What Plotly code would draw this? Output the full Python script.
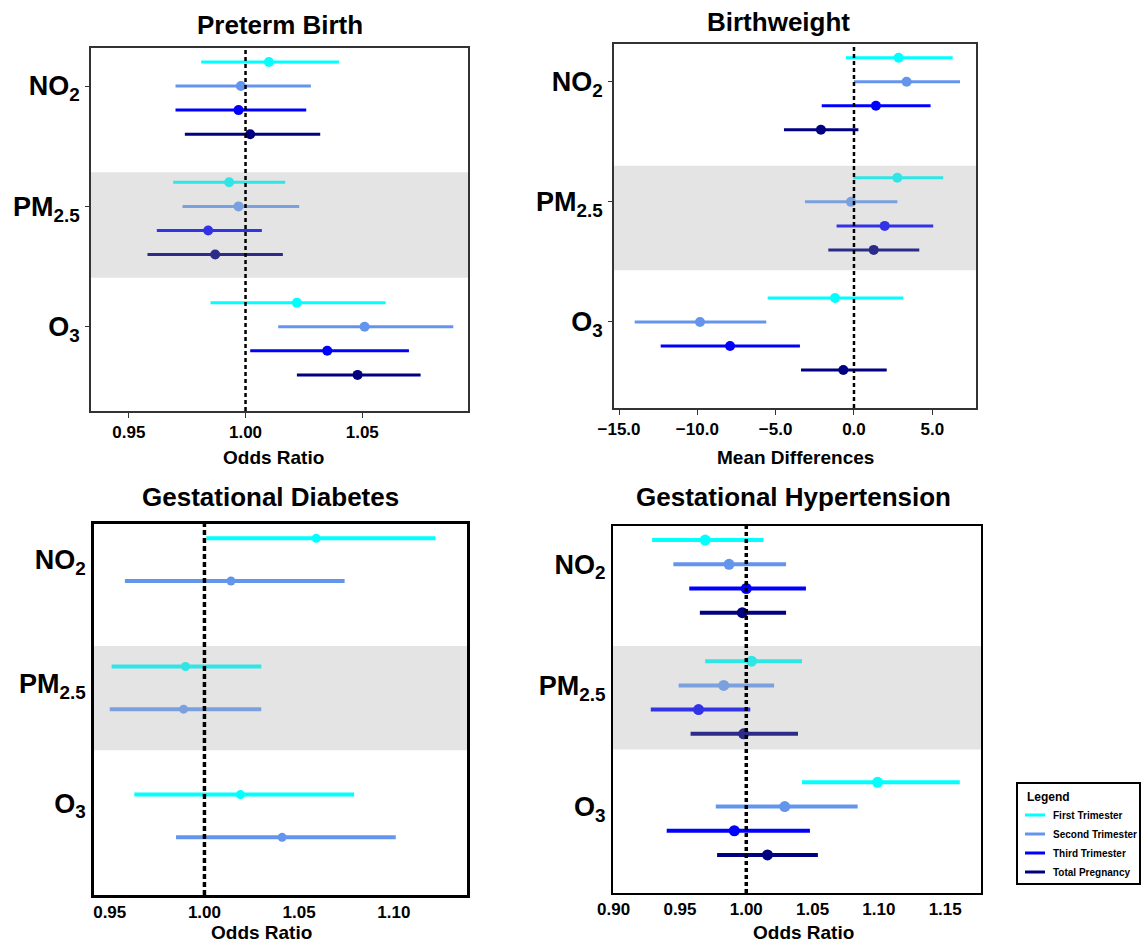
import plotly.graph_objects as go

W, H = 1142, 944
FONT = "Liberation Sans, Arial, Helvetica, sans-serif"

pollutants = ["NO<sub>2</sub>", "PM<sub>2.5</sub>", "O<sub>3</sub>"]
trimesters = ["First Trimester", "Second Trimester", "Third Trimester", "Total Pregnancy"]

# Preterm Birth (odds ratio); order: NO2 x4, PM2.5 x4, O3 x4 (First, Second, Third, Total)
ptb_est = [1.010, 0.998, 0.997, 1.002, 0.993, 0.997, 0.984, 0.987, 1.022, 1.051, 1.035, 1.048]
ptb_lo = [0.981, 0.970, 0.970, 0.974, 0.969, 0.973, 0.962, 0.958, 0.985, 1.014, 1.002, 1.022]
ptb_hi = [1.040, 1.028, 1.026, 1.032, 1.017, 1.023, 1.007, 1.016, 1.060, 1.089, 1.070, 1.075]

# Birthweight (mean differences)
bw_est = [2.85, 3.36, 1.40, -2.11, 2.77, -0.19, 1.96, 1.26, -1.21, -9.83, -7.91, -0.68]
bw_lo = [-0.51, 0.00, -2.06, -4.47, -0.04, -3.13, -1.11, -1.64, -5.51, -14.00, -12.34, -3.38]
bw_hi = [6.30, 6.77, 4.89, 0.28, 5.70, 2.77, 5.06, 4.17, 3.15, -5.60, -3.45, 2.09]

# Gestational Diabetes (odds ratio); only First and Second trimester: NO2 x2, PM2.5 x2, O3 x2
gdm_est = [1.059, 1.014, 0.990, 0.989, 1.019, 1.041]
gdm_lo = [1.001, 0.958, 0.951, 0.950, 0.963, 0.985]
gdm_hi = [1.122, 1.074, 1.030, 1.030, 1.079, 1.101]

# Gestational Hypertension (odds ratio)
gh_est = [0.969, 0.987, 1.000, 0.997, 1.004, 0.983, 0.964, 0.998, 1.099, 1.029, 0.991, 1.016]
gh_lo = [0.929, 0.945, 0.957, 0.965, 0.969, 0.949, 0.928, 0.958, 1.042, 0.977, 0.940, 0.978]
gh_hi = [1.013, 1.030, 1.045, 1.030, 1.042, 1.021, 1.003, 1.039, 1.161, 1.084, 1.048, 1.054]

colors = ["#00FFFF", "#6495ED", "#0000FF", "#000080"]
colors_band = ["#2EE6E6", "#7AA0DE", "#3333E6", "#2C2C88"]

fig = go.Figure()


def px_x(p):
    return p / W


def px_y(p):
    return 1 - p / H


def add_panel(k, est, lo, hi, n_tri, gap, lw, ms):
    xa = "x" if k == 1 else f"x{k}"
    ya = "y" if k == 1 else f"y{k}"
    i = 0
    for g in range(3):
        for t in range(n_tri):
            c = colors_band[t] if g == 1 else colors[t]
            row = g * gap + t
            fig.add_trace(go.Scatter(
                x=[est[i]], y=[row], mode="markers", name=trimesters[t],
                marker=dict(color=c, size=ms, line=dict(width=0)),
                error_x=dict(type="data", symmetric=False,
                             array=[hi[i] - est[i]], arrayminus=[est[i] - lo[i]],
                             width=0, thickness=lw, color=c),
                xaxis=xa, yaxis=ya, showlegend=False, hoverinfo="x+y"))
            i += 1


add_panel(1, ptb_est, ptb_lo, ptb_hi, 4, 5, 3, 10)
add_panel(2, bw_est, bw_lo, bw_hi, 4, 5, 3, 10)
add_panel(3, gdm_est, gdm_lo, gdm_hi, 2, 3, 4, 9)
add_panel(4, gh_est, gh_lo, gh_hi, 4, 5, 4, 11)

tickfont_x = dict(family=FONT, size=17, color="black", weight="bold")
tickfont_y = dict(family=FONT, size=27, color="black", weight="bold")

panels = {
    1: dict(xd=(91, 468), yd=(48, 411), xr=[0.9338, 1.0953], yr=[14.5, -0.58],
            xt=[0.95, 1.00, 1.05], fmt=".2f", yt=[1, 6, 11], band=(4.58, 8.96),
            ref=1.0, lc="#333333", lwid=1.5, ticks="outside", dw=2.5, dash="4px,3px"),
    2: dict(xd=(614, 976), yd=(44, 408), xr=[-15.32, 7.79], yr=[14.58, -0.57],
            xt=[-15, -10, -5, 0, 5], fmt=".1f", yt=[1, 6, 11], band=(4.5, 8.85),
            ref=0.0, lc="#333333", lwid=1.5, ticks="outside", dw=2.5, dash="4px,3px"),
    3: dict(xd=(94, 467), yd=(524, 895), xr=[0.9417, 1.1386], yr=[8.35, -0.335],
            xt=[0.95, 1.00, 1.05, 1.10], fmt=".2f", yt=[0.5, 3.4, 6.2], band=(2.52, 4.96),
            ref=1.0, lc="black", lwid=2.5, ticks="", dw=3.5, dash="5px,3px"),
    4: dict(xd=(613, 981), yd=(526, 893), xr=[0.8995, 1.177], yr=[14.57, -0.58],
            xt=[0.90, 0.95, 1.00, 1.05, 1.10, 1.15], fmt=".2f", yt=[1, 6, 11], band=(4.37, 8.65),
            ref=1.0, lc="black", lwid=2, ticks="", dw=3.5, dash="4px,3px"),
}

layout = {}
for k, p in panels.items():
    xn = "xaxis" if k == 1 else f"xaxis{k}"
    yn = "yaxis" if k == 1 else f"yaxis{k}"
    xa = "x" if k == 1 else f"x{k}"
    ya = "y" if k == 1 else f"y{k}"
    layout[xn] = dict(domain=[px_x(p["xd"][0]), px_x(p["xd"][1])], range=p["xr"], anchor=ya,
                      tickvals=p["xt"], tickformat=p["fmt"], ticks=p["ticks"], ticklen=5,
                      tickcolor=p["lc"], showline=True, mirror=True, linecolor=p["lc"],
                      linewidth=p["lwid"], showgrid=False, zeroline=False, tickfont=tickfont_x,
                      fixedrange=True, automargin=False)
    layout[yn] = dict(domain=[px_y(p["yd"][1]), px_y(p["yd"][0])], range=p["yr"], anchor=xa,
                      tickvals=p["yt"], ticktext=pollutants, ticks=p["ticks"], ticklen=4,
                      tickcolor=p["lc"], showline=True, mirror=True, linecolor=p["lc"],
                      linewidth=p["lwid"], showgrid=False, zeroline=False, tickfont=tickfont_y,
                      fixedrange=True, automargin=False)
    fig.add_shape(type="rect", xref=f"{xa} domain", yref=ya, x0=0, x1=1,
                  y0=p["band"][0], y1=p["band"][1], fillcolor="#E4E4E4",
                  line=dict(width=0), layer="below")
    fig.add_shape(type="line", xref=xa, yref=f"{ya} domain", x0=p["ref"], x1=p["ref"],
                  y0=0, y1=1, line=dict(color="black", width=p["dw"], dash=p["dash"]),
                  layer="above")

titles = [("Preterm Birth", 280, 25), ("Birthweight", 779, 22),
          ("Gestational Diabetes", 270, 497), ("Gestational Hypertension", 793, 497)]
for txt, x, y in titles:
    fig.add_annotation(text=txt, x=px_x(x), y=px_y(y), xref="paper", yref="paper",
                       showarrow=False, xanchor="center", yanchor="middle",
                       font=dict(family=FONT, size=26, color="black", weight="bold"))

xtitles = [("Odds Ratio", 273, 457), ("Mean Differences", 795, 457),
           ("Odds Ratio", 261, 932), ("Odds Ratio", 803, 932)]
for txt, x, y in xtitles:
    fig.add_annotation(text=txt, x=px_x(x), y=px_y(y), xref="paper", yref="paper",
                       showarrow=False, xanchor="center", yanchor="middle",
                       font=dict(family=FONT, size=19, color="black", weight="bold"))

# Hand-drawn legend box (matches the reference's compact legend)
fig.add_shape(type="rect", xref="paper", yref="paper",
              x0=px_x(1017), x1=px_x(1140), y0=px_y(884), y1=px_y(783),
              line=dict(color="black", width=2), fillcolor="white", layer="above")
fig.add_annotation(text="Legend", x=px_x(1025), y=px_y(797), xref="paper", yref="paper",
                   showarrow=False, xanchor="left", yanchor="middle",
                   font=dict(family=FONT, size=12, color="black", weight="bold"))
for t, name in enumerate(trimesters):
    yy = 815 + t * 19
    fig.add_shape(type="line", xref="paper", yref="paper",
                  x0=px_x(1025), x1=px_x(1045), y0=px_y(yy), y1=px_y(yy),
                  line=dict(color=colors[t], width=3), layer="above")
    fig.add_annotation(text=name, x=px_x(1051), y=px_y(yy), xref="paper", yref="paper",
                       showarrow=False, xanchor="left", yanchor="middle",
                       font=dict(family=FONT, size=10, color="black", weight="bold"))

fig.update_layout(
    **layout,
    width=W, height=H,
    margin=dict(l=0, r=0, t=0, b=0, autoexpand=False),
    paper_bgcolor="white", plot_bgcolor="white",
    showlegend=False,
)

fig.write_html("out.html",
               config={"displayModeBar": False},
               post_script="document.body.style.margin='0px';document.body.style.overflow='hidden';")
